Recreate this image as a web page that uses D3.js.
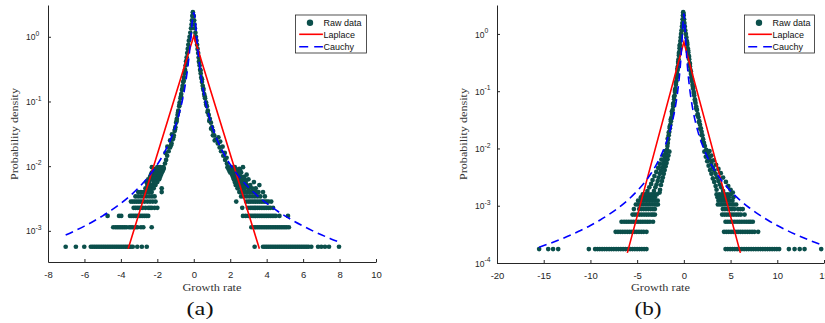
<!DOCTYPE html>
<html><head><meta charset="utf-8">
<script src="https://cdn.jsdelivr.net/npm/d3@7"></script>
<style>body{margin:0;background:#fff}svg{display:block}</style>
</head><body>
<svg id="c" width="825" height="323"></svg>
<script>
// ---------------- DATA ----------------
const xLabel = "Growth rate";
const yLabel = "Probability density";
const legendLabels = ["Raw data", "Laplace", "Cauchy"];
const captions = ["(a)", "(b)"];

const xTicksA = [-8, -6, -4, -2, 0, 2, 4, 6, 8, 10];
const yTicksA = [1e-3, 1e-2, 1e-1, 1];
const yExpA = ["-3", "-2", "-1", "0"];
const xTicksB = [-20, -15, -10, -5, 0, 5, 10, 15];
const yTicksB = [1e-4, 1e-3, 1e-2, 1e-1, 1];
const yExpB = ["-4", "-3", "-2", "-1", "0"];

// histogram density levels (count * unit) for the sparse tails
const levelsA = [5.68e-4, 1.136e-3, 1.70e-3, 2.27e-3, 2.84e-3, 3.41e-3, 3.98e-3, 4.54e-3, 5.11e-3,
  5.68e-3, 6.25e-3, 6.82e-3, 7.38e-3, 7.95e-3, 8.52e-3, 9.09e-3, 9.66e-3];
const rowsA = [
  [-7.03,-6.47,-6.01,-5.65,-5.55,-5.45,-5.35,-5.25,-5.15,-5.05,-4.95,-4.85,-4.75,-4.65,-4.55,-4.45,-4.35,-4.25,-4.15,-4.05,-3.95,-3.85,-3.75,-3.65,-3.55,-3.45,-3.35,-3.1,-2.85,-2.58,
   3.34,3.8,3.9,4.0,4.1,4.2,4.3,4.4,4.5,4.6,4.7,4.8,4.9,5.0,5.1,5.2,5.3,5.4,5.5,5.6,5.7,5.8,5.9,6.0,6.1,6.2,6.3,6.45,6.82,7.0,7.2,7.42,7.97],
  [-4.42,-4.3,-4.2,-4.1,-4.0,-3.9,-3.8,-3.7,-3.55,-3.45,-3.35,-3.2,-3.1,-2.9,-2.77,-2.31,
   3.16,3.3,3.4,3.5,3.6,3.7,3.8,3.9,4.0,4.1,4.2,4.3,4.4,4.5,4.6,4.7,4.8,4.9,5.0,5.1,5.22],
  [-4.73,-4.1,-3.98,-3.5,-3.4,-3.3,-3.2,-3.1,-3.0,-2.9,-2.8,-2.7,-2.6,-2.5,
   2.7,2.85,3.0,3.1,3.2,3.3,3.4,3.5,3.6,3.7,3.8,3.9,4.0,4.1,4.2,4.3,4.4,4.5,4.7,5.17],
  [-3.3,-3.2,-3.1,-3.0,-2.9,-2.8,-2.65,-2.5,-2.4,-2.3,-2.15,-2.0,
   2.66,2.97,3.1,3.2,3.3,3.4,3.5,3.6,3.7,3.8,3.9,4.0,4.1,4.2,4.35],
  [-3.45,-3.35,-3.25,-3.15,-3.05,-2.95,-2.85,-2.7,-2.55,-2.4,-2.25,-2.1,
   2.33,2.88,3.0,3.1,3.2,3.3,3.4,3.5,3.6,3.7,3.8,3.9,4.0,4.1,4.25],
  [-3.2,-3.05,-2.9,-2.75,-2.6,-2.45,-2.3,-2.15, 2.6,2.75,2.9,3.05,3.2,3.35,3.5,3.65,3.9],
  [-3.05,-2.9,-2.75,-2.6,-2.45,-2.31,-1.76, 2.5,2.65,2.8,2.95,3.1,3.25,3.4,3.55,3.8],
  [-2.65,-2.5,-2.35,-2.2,-1.76, 2.4,2.6,2.8,3.0,3.2,3.4],
  [-2.55,-2.4,-2.25,-2.1, 2.3,2.5,2.7,2.9,3.1,3.6],
  [-2.6,-2.45,-2.2,-2.0, 2.25,2.45,2.65,2.85,3.3],
  [-2.5,-2.3,-2.1,-1.9, 2.2,2.4,2.6,2.8,3.0],
  [-2.4,-2.2,-2.05,-1.85, 2.15,2.35,2.55,2.75],
  [-2.35,-2.15,-1.95,-1.8, 2.1,2.3,2.5,2.9],
  [-2.3,-2.1,-1.9,-1.75, 2.0,2.2,2.4,2.6],
  [-2.2,-2.0,-1.85,-1.7, 1.95,2.15,2.35,2.55],
  [-2.1,-1.95,-1.8,-1.65, 1.9,2.1,2.3,2.5],
  [-2.3,-2.0,-1.85,-1.68, 1.85,2.05,2.25,2.7]
];
// dense central part [x, density]
const bandA = [
  [-0.05,2.40],[-0.08,2.10],[-0.10,1.80],[-0.12,1.55],[-0.15,1.35],[-0.19,1.15],[-0.23,1.00],[-0.27,0.87],[-0.30,0.75],[-0.33,0.65],
  [-0.36,0.56],[-0.39,0.48],[-0.42,0.42],[-0.45,0.36],[-0.48,0.31],[-0.51,0.27],[-0.54,0.235],[-0.58,0.20],[-0.61,0.175],[-0.65,0.15],
  [-0.69,0.13],[-0.73,0.112],[-0.77,0.097],[-0.80,0.084],[-0.85,0.072],[-0.89,0.062],[-0.93,0.054],[-0.97,0.047],[-1.01,0.040],[-1.05,0.035],
  [-1.10,0.030],[-1.15,0.026],[-1.22,0.0225],[-1.30,0.0195],[-1.38,0.017],[-1.46,0.0145],[-1.52,0.0125],[-1.58,0.011],[-1.66,0.0095],
  [-1.2,0.031],[-1.3,0.025],[-1.45,0.02],[-1.55,0.016],
  [-0.62,0.16],[-0.70,0.12],[-0.78,0.09],[-0.86,0.068],[-0.94,0.05],[-1.03,0.037],[-1.12,0.028],[-1.25,0.021],[-0.40,0.38],[-0.47,0.29],[-0.55,0.21],
  [0.0,2.10],[0.02,1.80],[0.04,1.55],[0.06,1.35],[0.09,1.15],[0.12,1.00],[0.15,0.87],[0.18,0.75],[0.21,0.65],[0.24,0.56],
  [0.27,0.48],[0.29,0.42],[0.32,0.36],[0.35,0.31],[0.38,0.27],[0.41,0.235],[0.45,0.20],[0.49,0.175],[0.53,0.15],[0.57,0.13],
  [0.62,0.112],[0.67,0.097],[0.72,0.084],[0.77,0.072],[0.82,0.062],[0.88,0.054],[0.94,0.047],[1.00,0.040],[1.06,0.035],[1.12,0.030],
  [1.22,0.026],[1.32,0.0225],[1.42,0.0195],[1.50,0.017],[1.62,0.0145],[1.72,0.0125],[1.82,0.011],[1.92,0.0095],
  [1.35,0.028],[1.45,0.024],[1.58,0.02],[1.7,0.016],[1.8,0.0135],
  [0.30,0.40],[0.37,0.30],[0.45,0.22],[0.52,0.16],[0.60,0.12],[0.68,0.09],[0.76,0.068],[0.85,0.05],[0.95,0.038],[1.05,0.03],[1.15,0.025]
];
const laplaceA = [[-3.6, 5.3e-4], [0, 1.03], [3.6, 5.3e-4]];
const cauchyA = [[-7.03,8.63e-4],[-6.5,1.009e-3],[-6,1.184e-3],[-5.5,1.409e-3],[-5,1.705e-3],[-4.5,2.104e-3],[-4,2.663e-3],
  [-3.5,3.477e-3],[-3,4.73e-3],[-2.5,6.80e-3],[-2,1.061e-2],[-1.75,1.384e-2],[-1.5,1.881e-2],[-1.25,2.70e-2],[-1,4.19e-2],
  [-0.8,6.48e-2],[-0.6,0.1128],[-0.5,0.159],[-0.4,0.2396],[-0.3,0.395],[-0.25,0.530],[-0.2,0.735],[-0.15,1.053],[-0.1,1.525],
  [-0.05,2.085],[0,2.375],[0.05,2.085],[0.1,1.525],[0.15,1.053],[0.2,0.735],[0.25,0.530],[0.3,0.395],[0.4,0.2396],[0.5,0.159],
  [0.6,0.1128],[0.8,6.48e-2],[1,4.19e-2],[1.25,2.70e-2],[1.5,1.881e-2],[1.75,1.384e-2],[2,1.061e-2],[2.5,6.80e-3],[3,4.73e-3],
  [3.5,3.477e-3],[4,2.663e-3],[4.5,2.104e-3],[5,1.705e-3],[5.5,1.409e-3],[6,1.184e-3],[6.5,1.009e-3],[7,8.70e-4],[7.5,7.58e-4],[8.0,6.66e-4]];

const levelsB = [1.75e-4, 3.5e-4, 5.25e-4, 7.0e-4, 8.75e-4, 1.05e-3, 1.225e-3, 1.4e-3, 1.575e-3];
const rowsB = [
  [-15.49,-14.52,-14.0,-13.45,-10.17,-9.5,-9.25,-9.0,-8.75,-8.5,-8.25,-8.0,-7.75,-7.5,-7.25,-7.0,-6.75,-6.5,-6.25,-6.0,-5.75,-5.5,-5.25,-5.0,-4.75,-4.5,-4.25,-4.0,
   4.46,4.7,4.95,5.2,5.45,5.7,5.95,6.2,6.45,6.7,6.95,7.2,7.45,7.7,7.95,8.2,8.45,8.7,8.95,9.2,9.45,9.7,9.95,10.2,11.24,11.85,12.4,12.92,14.7],
  [-7.3,-7.05,-6.8,-6.55,-6.3,-6.05,-5.8,-5.55,-5.3,-5.05,-4.8,-4.55,-4.3,-4.0,
   4.3,4.55,4.8,5.05,5.3,5.55,5.8,6.05,6.3,6.55,6.8,7.05,7.3,7.55,7.95],
  [-6.67,-6.4,-6.15,-5.9,-5.65,-5.4,-5.15,-4.9,-4.65,-4.4,-4.15,-3.9,-3.64,-3.3,
   4.46,4.7,4.95,5.2,5.45,5.7,5.95,6.2,6.45,6.7,6.95,7.15,7.38],
  [-5.49,-5.25,-5.0,-4.75,-4.5,-4.25,-4.0,-3.75,-3.5,-3.3,-3.1, 4.1,4.35,4.6,4.85,5.1,5.35,5.6,5.85,6.1,6.5],
  [-5.35,-4.78,-4.55,-4.3,-4.05,-3.8,-3.55,-3.3,-3.1, 4.17,4.4,4.65,4.9,5.15,5.4,5.8,6.05,6.3],
  [-5.14,-4.9,-4.65,-4.4,-4.15,-3.9,-3.65,-3.4,-3.15,-2.95,-2.78, 3.64,3.9,4.15,4.4,4.65,4.9,5.15,5.35,5.6],
  [-4.9,-4.6,-4.3,-4.0,-3.7,-3.4,-3.1,-2.8, 3.7,4.0,4.3,4.6,4.9,5.2],
  [-4.6,-4.3,-4.0,-3.7,-3.4,-3.1, 3.6,3.9,4.2,4.5,4.8,5.3],
  [-4.4,-4.1,-3.8,-3.5,-3.2,-2.9, 3.5,3.8,4.1,4.4,4.7,5.0]
];
const bandB = [
  [-0.07,2.40],[-0.10,2.10],[-0.13,1.80],[-0.16,1.55],[-0.20,1.35],[-0.25,1.15],[-0.30,1.00],[-0.34,0.87],[-0.38,0.75],[-0.42,0.65],
  [-0.46,0.56],[-0.50,0.48],[-0.53,0.42],[-0.57,0.36],[-0.61,0.31],[-0.64,0.27],[-0.67,0.235],[-0.71,0.20],[-0.75,0.175],[-0.80,0.15],
  [-0.85,0.13],[-0.90,0.112],[-0.95,0.097],[-0.99,0.084],[-1.04,0.072],[-1.09,0.062],[-1.14,0.054],[-1.20,0.047],[-1.26,0.040],[-1.32,0.035],
  [-1.38,0.030],[-1.44,0.026],[-1.50,0.0225],[-1.56,0.0195],[-1.62,0.017],[-1.68,0.0145],[-1.72,0.0125],[-1.76,0.011],[-1.80,0.0095],
  [-1.90,0.0082],[-2.02,0.0071],[-2.12,0.0062],[-2.22,0.0054],[-2.32,0.0047],[-2.45,0.0041],[-2.57,0.0036],[-2.70,0.0031],[-2.80,0.0027],
  [-2.92,0.00235],[-3.05,0.0021],[-3.20,0.0018],
  [-1.55,0.0088],[-1.65,0.0075],[-1.75,0.0065],[-1.85,0.0056],[-1.95,0.0049],[-2.05,0.0042],[-2.15,0.0036],[-2.25,0.0031],[-2.35,0.0027],
  [-2.45,0.0023],[-2.55,0.0019],[-2.6,0.0017],
  [-2.0,0.009],[-2.2,0.0076],[-2.4,0.0064],[-2.6,0.0054],[-2.75,0.0046],[-2.95,0.0039],[-3.15,0.0033],[-3.35,0.0028],[-3.5,0.0024],
  [-3.7,0.0021],[-3.9,0.0018],[-4.0,0.0016],
  [-0.45,0.62],[-0.52,0.45],[-0.60,0.33],[-0.68,0.25],[-0.75,0.185],[-0.85,0.14],[-0.95,0.105],[-1.05,0.08],[-1.15,0.06],[-1.28,0.044],
  [-1.40,0.032],[-1.52,0.024],[-1.62,0.019],[-1.72,0.015],
  [-0.04,2.25],[-0.02,2.10],[0.02,1.80],[0.06,1.55],[0.10,1.35],[0.15,1.15],[0.21,1.00],[0.27,0.87],[0.32,0.75],[0.37,0.65],
  [0.42,0.56],[0.47,0.48],[0.52,0.42],[0.57,0.36],[0.62,0.31],[0.66,0.27],[0.70,0.235],[0.76,0.20],[0.81,0.175],[0.87,0.15],
  [0.93,0.13],[0.99,0.112],[1.05,0.097],[1.11,0.084],[1.18,0.072],[1.25,0.062],[1.32,0.054],[1.40,0.047],[1.48,0.040],[1.56,0.035],
  [1.65,0.030],[1.73,0.026],[1.82,0.0225],[1.90,0.0195],[1.98,0.017],[2.06,0.0145],[2.15,0.0125],[2.25,0.011],[2.40,0.0095],
  [2.55,0.0082],[2.70,0.0071],[2.82,0.0062],[2.95,0.0054],[3.10,0.0047],[3.25,0.0041],[3.40,0.0036],[3.55,0.0031],[3.70,0.0027],
  [3.85,0.00235],[4.00,0.0021],[4.20,0.0018],
  [2.2,0.0088],[2.35,0.0072],[2.5,0.006],[2.65,0.005],[2.8,0.0042],[2.95,0.0036],[3.1,0.003],[3.25,0.0026],[3.4,0.0022],[3.5,0.0019],
  [2.75,0.009],[2.95,0.0075],[3.2,0.0062],[3.45,0.0052],[3.7,0.0044],[3.95,0.0037],[4.2,0.0031],[4.5,0.0026],[4.75,0.0022],[5.0,0.0019],[5.24,0.0017],
  [0.35,0.70],[0.45,0.52],[0.55,0.40],[0.65,0.30],[0.75,0.22],[0.85,0.165],[0.97,0.12],[1.08,0.09],[1.2,0.068],[1.33,0.05],
  [1.46,0.038],[1.6,0.029],[1.75,0.022],[1.9,0.017],[2.05,0.013]
];
const laplaceB = [[-6.05, 1.5e-4], [0, 0.72], [6.05, 1.5e-4]];
const cauchyB = [[-15.5,1.881e-4],[-14,2.306e-4],[-13,2.674e-4],[-12,3.138e-4],[-11,3.735e-4],[-10,4.519e-4],[-9,5.58e-4],[-8,7.06e-4],
  [-7,9.22e-4],[-6,1.255e-3],[-5,1.807e-3],[-4,2.821e-3],[-3.5,3.684e-3],[-3,5.01e-3],[-2.5,7.21e-3],[-2,1.124e-2],[-1.5,1.99e-2],
  [-1.2,3.096e-2],[-1,4.43e-2],[-0.8,6.85e-2],[-0.6,0.119],[-0.5,0.1674],[-0.4,0.251],[-0.3,0.411],[-0.2,0.753],[-0.15,1.058],
  [-0.1,1.499],[-0.05,1.995],[0,2.242],[0.05,1.995],[0.1,1.499],[0.15,1.058],[0.2,0.753],[0.3,0.411],[0.4,0.251],[0.5,0.1674],
  [0.6,0.119],[0.8,6.85e-2],[1,4.43e-2],[1.2,3.096e-2],[1.5,1.99e-2],[2,1.124e-2],[2.5,7.21e-3],[3,5.01e-3],[3.5,3.684e-3],
  [4,2.821e-3],[5,1.807e-3],[6,1.255e-3],[7,9.22e-4],[8,7.06e-4],[9,5.58e-4],[10,4.519e-4],[11,3.735e-4],[12,3.138e-4],
  [13,2.674e-4],[14,2.306e-4],[15,2.009e-4]];

// ---------------- DRAWING ----------------
const SANS = '"Liberation Sans", Arial, Helvetica, sans-serif';
const SERIF = '"Liberation Serif", "Times New Roman", serif';
const INK = "#262626";
const DOT = "#0b4f4b";
const svg = d3.select("#c");

const panels = [
  { left: 48, right: 376, top: 5, bottom: 262, xDomain: [-8, 10], yDomain: [3.3e-4, 3.1],
    xTicks: xTicksA, yTicks: yTicksA, yExp: yExpA, levels: levelsA, rows: rowsA, band: bandA,
    laplace: laplaceA, cauchy: cauchyA, legend: { x: 295.5, y: 15, w: 71, h: 38 },
    caption: captions[0], capX: 200, yLabX: 17.5 },
  { left: 497, right: 824, top: 5, bottom: 263, xDomain: [-20, 15], yDomain: [1e-4, 3.2],
    xTicks: xTicksB, yTicks: yTicksB, yExp: yExpB, levels: levelsB, rows: rowsB, band: bandB,
    laplace: laplaceB, cauchy: cauchyB, legend: { x: 744.5, y: 15, w: 70, h: 38 },
    caption: captions[1], capX: 648, yLabX: 466.5 }
];

panels.forEach(p => {
  const x = d3.scaleLinear().domain(p.xDomain).range([p.left, p.right]);
  const y = d3.scaleLog().domain(p.yDomain).range([p.bottom, p.top]);
  const g = svg.append("g");

  const pts = [];
  p.rows.forEach((row, i) => row.forEach(v => pts.push([v, p.levels[i]])));
  p.band.forEach(d => pts.push(d));
  g.append("g").selectAll("circle").data(pts).join("circle")
    .attr("cx", d => x(d[0])).attr("cy", d => y(d[1])).attr("r", 2.35).attr("fill", DOT);

  const line = d3.line().x(d => x(d[0])).y(d => y(d[1]));
  g.append("path").attr("d", line(p.laplace)).attr("fill", "none")
    .attr("stroke", "#ff0000").attr("stroke-width", 1.6);
  const cline = d3.line().x(d => x(d[0])).y(d => y(d[1])).curve(d3.curveMonotoneX);
  g.append("path").attr("d", cline(p.cauchy)).attr("fill", "none")
    .attr("stroke", "#0000ff").attr("stroke-width", 1.6).attr("stroke-dasharray", "8,5");

  // axes
  const gx = g.append("g").attr("transform", `translate(0,${p.bottom})`)
    .call(d3.axisBottom(x).tickValues(p.xTicks).tickSizeInner(-3).tickSizeOuter(0)
      .tickPadding(9).tickFormat(d => String(d)));
  gx.attr("font-family", SANS).attr("font-size", 9.5);
  gx.select(".domain").attr("stroke", INK);
  gx.selectAll(".tick line").attr("stroke", INK);
  gx.selectAll(".tick text").attr("fill", INK);

  const gy = g.append("g").attr("transform", `translate(${p.left},0)`)
    .call(d3.axisLeft(y).tickValues(p.yTicks).tickSizeInner(-3).tickSizeOuter(0).tickFormat(""));
  gy.select(".domain").attr("stroke", INK);
  gy.selectAll(".tick line").attr("stroke", INK);

  p.yTicks.forEach((t, i) => {
    const tx = g.append("text").attr("x", p.left - 22).attr("y", y(t) + 3.6)
      .attr("font-family", SANS).attr("font-size", 8.5).attr("fill", INK).text("10");
    tx.append("tspan").attr("dy", -4.3).attr("font-size", 6.8).text(p.yExp[i]);
  });

  // axis labels
  g.append("text").attr("x", (p.left + p.right) / 2).attr("y", 290.5)
    .attr("text-anchor", "middle").attr("font-family", SERIF).attr("font-size", 10.5)
    .attr("fill", "#333").attr("textLength", 59).attr("lengthAdjust", "spacingAndGlyphs").text(xLabel);
  g.append("text").attr("transform", `translate(${p.yLabX},134) rotate(-90)`)
    .attr("text-anchor", "middle").attr("font-family", SERIF).attr("font-size", 10.5)
    .attr("fill", "#333").attr("textLength", 92).attr("lengthAdjust", "spacingAndGlyphs").text(yLabel);

  // caption
  g.append("text").attr("x", p.capX).attr("y", 315).attr("text-anchor", "middle")
    .attr("font-family", SERIF).attr("font-size", 19).attr("fill", "#111")
    .attr("textLength", 27).attr("lengthAdjust", "spacingAndGlyphs").text(p.caption);

  // legend
  const L = p.legend;
  const lg = g.append("g");
  lg.append("rect").attr("x", L.x).attr("y", L.y).attr("width", L.w).attr("height", L.h)
    .attr("fill", "#fff").attr("stroke", INK).attr("stroke-width", 0.8);
  const rowY = [L.y + 7.7, L.y + 19.3, L.y + 31.7];
  lg.append("circle").attr("cx", L.x + 14.5).attr("cy", rowY[0]).attr("r", 3.2).attr("fill", DOT);
  lg.append("line").attr("x1", L.x + 3.7).attr("x2", L.x + 27.4).attr("y1", rowY[1]).attr("y2", rowY[1])
    .attr("stroke", "#ff0000").attr("stroke-width", 1.6);
  lg.append("line").attr("x1", L.x + 3.7).attr("x2", L.x + 27.4).attr("y1", rowY[2]).attr("y2", rowY[2])
    .attr("stroke", "#0000ff").attr("stroke-width", 1.6).attr("stroke-dasharray", "9,6");
  legendLabels.forEach((s, i) => {
    lg.append("text").attr("x", L.x + 28).attr("y", rowY[i] + 3.3)
      .attr("font-family", SANS).attr("font-size", 9).attr("fill", "#111").text(s);
  });
});
</script>
</body></html>
